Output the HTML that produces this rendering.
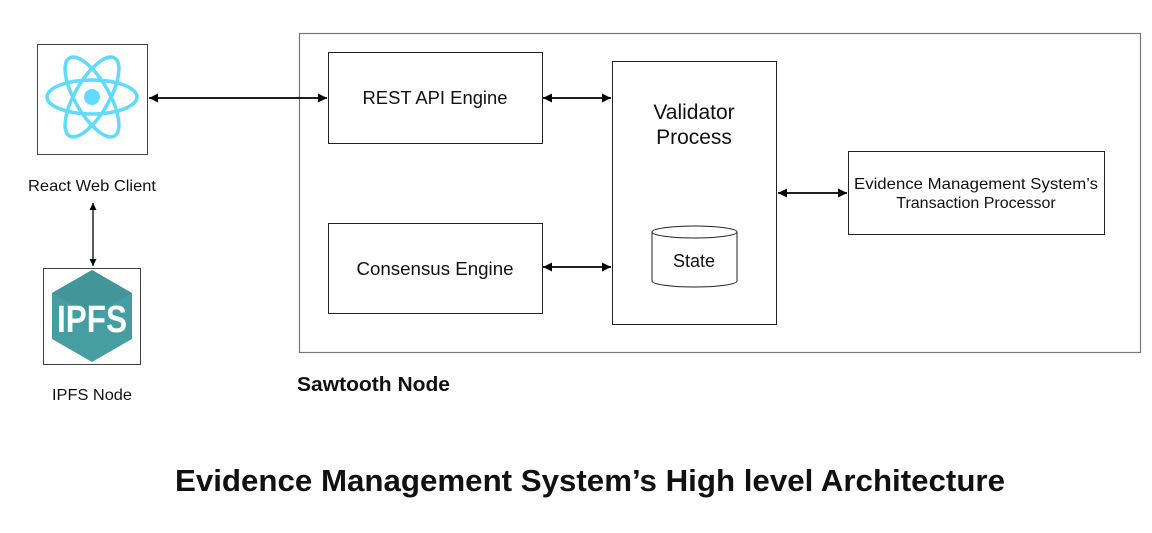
<!DOCTYPE html>
<html><head><meta charset="utf-8"><style>
html,body{margin:0;padding:0;background:#fff;}
svg{display:block;font-family:"Liberation Sans",Arial,sans-serif;}
</style></head><body>
<svg width="1152" height="533" viewBox="0 0 1152 533" xmlns="http://www.w3.org/2000/svg">
<defs>
<marker id="a" viewBox="0 0 10 10" refX="10" refY="5" markerWidth="13" markerHeight="9" orient="auto-start-reverse" markerUnits="userSpaceOnUse"><path d="M0,0 L10,5 L0,10 z" fill="#000"/></marker>
<marker id="s" viewBox="0 0 10 10" refX="10" refY="5" markerWidth="8" markerHeight="7" orient="auto-start-reverse" markerUnits="userSpaceOnUse"><path d="M0,0 L10,5 L0,10 z" fill="#000"/></marker>
</defs>
<rect x="37.5" y="44.5" width="110" height="110" fill="#fff" stroke="#444" stroke-width="1"/>
<g transform="translate(92,97)" fill="none" stroke="#61dafb" stroke-width="3.5">
<ellipse rx="45" ry="17"/>
<ellipse rx="45" ry="17" transform="rotate(60)"/>
<ellipse rx="45" ry="17" transform="rotate(-60)"/>
<circle r="8" fill="#61dafb" stroke="none"/>
</g>
<text x="92" y="191" font-size="16" text-anchor="middle" fill="#111" textLength="128" lengthAdjust="spacingAndGlyphs">React Web Client</text>
<line x1="93" y1="203" x2="93" y2="266" stroke="#000" stroke-width="1.3" marker-start="url(#s)" marker-end="url(#s)"/>
<rect x="43.5" y="268.5" width="97" height="96" fill="#fff" stroke="#444"/>
<polygon points="92,270 132,293 132,339 92,362 52,339 52,293" fill="#469ea2"/>
<polygon points="92,270 132,293 92,316 52,293" fill="#3f8f93" opacity="0.6"/>
<text x="92" y="332" font-size="38" text-anchor="middle" fill="#fff" font-weight="bold" textLength="70" lengthAdjust="spacingAndGlyphs">IPFS</text>
<text x="92" y="400" font-size="16" text-anchor="middle" fill="#111" textLength="80" lengthAdjust="spacingAndGlyphs">IPFS Node</text>
<rect x="299.5" y="33.5" width="841" height="319" fill="none" stroke="#777" stroke-width="1.2"/>
<text x="297" y="391" font-size="20" font-weight="bold" fill="#111" textLength="153" lengthAdjust="spacingAndGlyphs">Sawtooth Node</text>
<line x1="149" y1="98" x2="327" y2="98" stroke="#000" stroke-width="1.8" marker-start="url(#a)" marker-end="url(#a)"/>
<rect x="328.5" y="52.5" width="214" height="91" fill="#fff" stroke="#222"/>
<text x="435" y="104" font-size="18" text-anchor="middle" fill="#111" textLength="145" lengthAdjust="spacingAndGlyphs">REST API Engine</text>
<rect x="328.5" y="223.5" width="214" height="90" fill="#fff" stroke="#222"/>
<text x="435" y="275" font-size="18" text-anchor="middle" fill="#111" textLength="157" lengthAdjust="spacingAndGlyphs">Consensus Engine</text>
<line x1="543" y1="98" x2="611" y2="98" stroke="#000" stroke-width="1.8" marker-start="url(#a)" marker-end="url(#a)"/>
<line x1="543" y1="267" x2="611" y2="267" stroke="#000" stroke-width="1.8" marker-start="url(#a)" marker-end="url(#a)"/>
<rect x="612.5" y="61.5" width="164" height="263" fill="#fff" stroke="#222"/>
<text x="694" y="119" font-size="21" text-anchor="middle" fill="#111">Validator</text>
<text x="694" y="144" font-size="21" text-anchor="middle" fill="#111">Process</text>
<path d="M652,232 L652,281 A42.5,6 0 0 0 737,281 L737,232" fill="#fff" stroke="#222"/>
<ellipse cx="694.5" cy="232" rx="42.5" ry="6" fill="#fff" stroke="#222"/>
<text x="694" y="267" font-size="18" text-anchor="middle" fill="#111">State</text>
<line x1="778" y1="193" x2="847" y2="193" stroke="#000" stroke-width="1.8" marker-start="url(#a)" marker-end="url(#a)"/>
<rect x="848.5" y="151.5" width="256" height="83" fill="#fff" stroke="#222"/>
<text x="976" y="189" font-size="16" text-anchor="middle" fill="#111" textLength="244" lengthAdjust="spacingAndGlyphs">Evidence Management System’s</text>
<text x="976" y="208" font-size="16" text-anchor="middle" fill="#111">Transaction Processor</text>
<text x="590" y="491" font-size="31" font-weight="bold" text-anchor="middle" fill="#111" textLength="830" lengthAdjust="spacingAndGlyphs">Evidence Management System’s High level Architecture</text>
</svg>
</body></html>
